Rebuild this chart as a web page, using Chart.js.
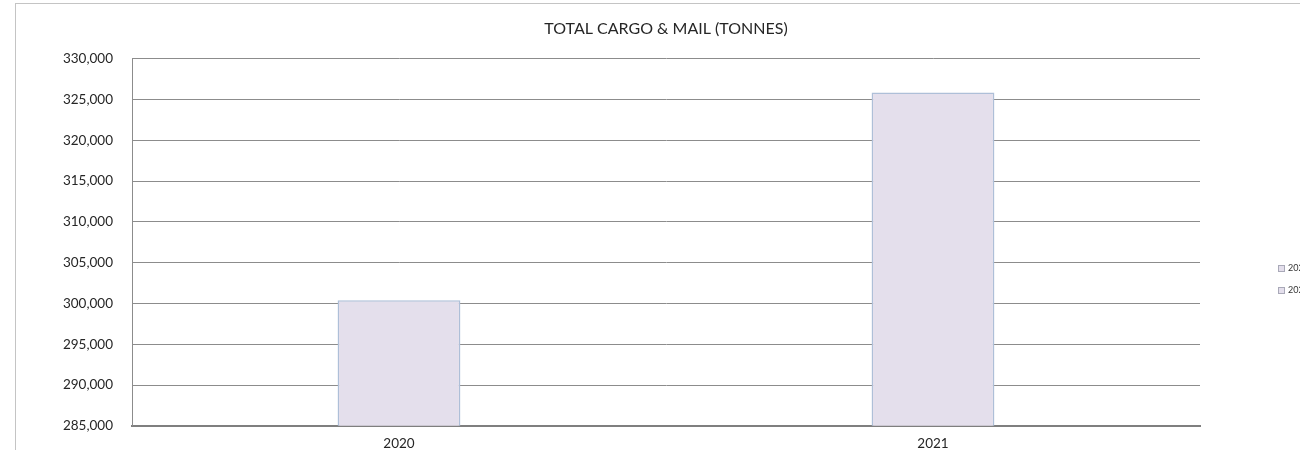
<!DOCTYPE html>
<html>
<head>
<meta charset="utf-8">
<script src="https://cdn.jsdelivr.net/npm/chart.js@4.4.0/dist/chart.umd.min.js"></script>
<style>
  html, body { margin: 0; padding: 0; background: #fff; overflow: hidden; }
  .frame { position: absolute; left: 15px; top: 3px; width: 1400px; height: 600px;
           border-left: 1px solid #c4c4c4; border-top: 1px solid #c4c4c4; }
  .wrap { position: absolute; left: 0; top: 0; width: 1330px; height: 462px; }
</style>
</head>
<body>
<div class="frame"></div>
<div class="wrap"><canvas id="cargo"></canvas></div>
<script>
const years = ["2020", "2021"];
const tonnes = [300400, 325850];
const yMin = 285000;
const yMax = 330000;
const yStep = 5000;

const FONT = "Lato";

// legend drawn at the right edge, partly cut off like the original
const sideLegend = {
  id: "sideLegend",
  afterDraw(chart) {
    const ctx = chart.ctx;
    ctx.save();
    ctx.font = "9px " + FONT;
    ctx.textBaseline = "middle";
    years.forEach((y, i) => {
      const cy = 268 + i * 22;
      ctx.fillStyle = "#e4dfec";
      ctx.strokeStyle = "#a9a9b8";
      ctx.lineWidth = 1;
      ctx.fillRect(1278, cy - 3, 6, 6);
      ctx.strokeRect(1278.5, cy - 2.5, 6, 6);
      ctx.fillStyle = "#333";
      ctx.fillText(y, 1288, cy + 0.5);
    });
    ctx.restore();
  },
};

const ctx = document.getElementById("cargo").getContext("2d");

new Chart(ctx, {
  type: "bar",
  data: {
    labels: years,
    datasets: [
      {
        label: "Total cargo & mail",
        data: tonnes,
        backgroundColor: "#e4dfec",
        borderColor: "#aebfd8",
        borderWidth: 1.5,
        barPercentage: 0.23,
        categoryPercentage: 1,
      },
    ],
  },
  options: {
    responsive: true,
    maintainAspectRatio: false,
    animation: false,
    layout: {
      padding: { left: 0, right: 130, top: 0, bottom: 0 },
    },
    plugins: {
      legend: { display: false },
      tooltip: { enabled: false },
      title: {
        display: true,
        fullSize: false,
        text: "TOTAL CARGO & MAIL (TONNES)",
        color: "#262626",
        font: { family: FONT, size: 16, weight: "normal" },
        padding: { top: 19, bottom: 20.5 },
      },
    },
    scales: {
      x: {
        grid: { display: false, drawTicks: false },
        border: { color: "#7f7f7f", width: 2 },
        ticks: {
          padding: 10,
          color: "#262626",
          font: { family: FONT, size: 13.5 },
        },
      },
      y: {
        min: yMin,
        max: yMax,
        afterFit: (scale) => {
          scale.width = 132;
        },
        grid: { color: "#8c8c8c", drawTicks: false },
        border: { color: "#8c8c8c", width: 1 },
        ticks: {
          stepSize: yStep,
          padding: 19,
          color: "#262626",
          font: { family: FONT, size: 13.5 },
          callback: (value) => value.toLocaleString("en-US"),
        },
      },
    },
  },
  plugins: [sideLegend],
});
</script>
</body>
</html>
